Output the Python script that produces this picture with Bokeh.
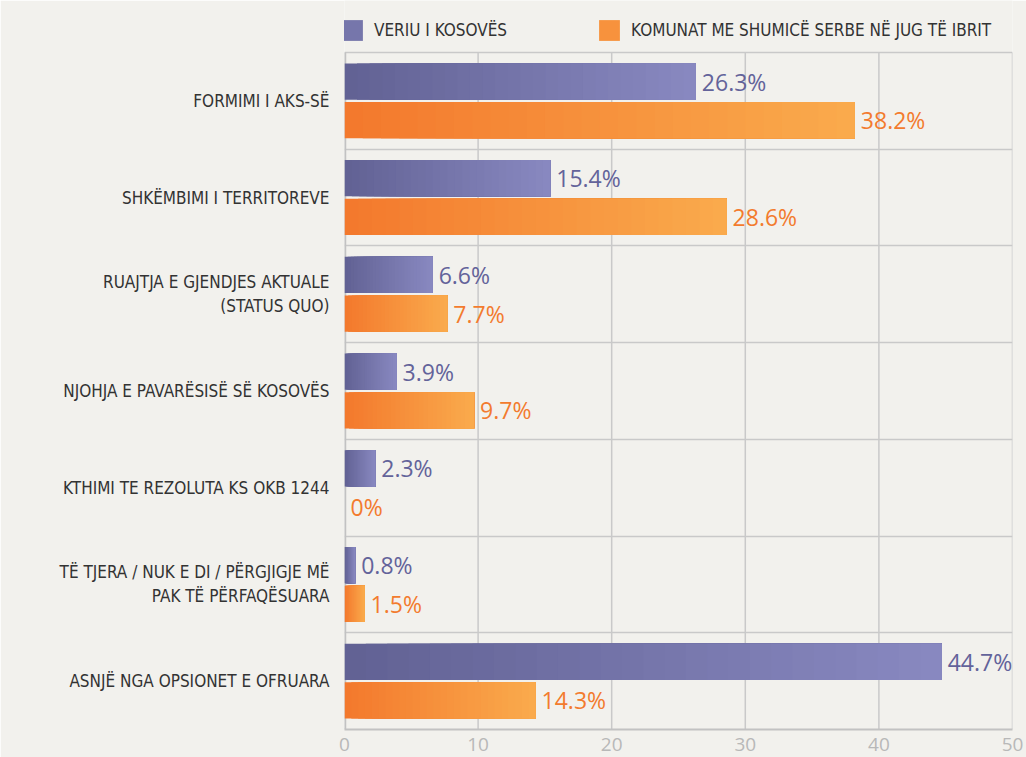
from bokeh.plotting import figure
from bokeh.models import Range1d, FixedTicker, Legend, LegendItem, ColumnDataSource
from bokeh.core.properties import value
from bokeh.embed import file_html
from bokeh.resources import INLINE

categories = [
    "FORMIMI I AKS-SË",
    "SHKËMBIMI I TERRITOREVE",
    "RUAJTJA E GJENDJES AKTUALE\n(STATUS QUO)",
    "NJOHJA E PAVARËSISË SË KOSOVËS",
    "KTHIMI TE REZOLUTA KS OKB 1244",
    "TË TJERA / NUK E DI / PËRGJIGJE MË\nPAK TË PËRFAQËSUARA",
    "ASNJË NGA OPSIONET E OFRUARA",
]
series_names = ["VERIU I KOSOVËS", "KOMUNAT ME SHUMICË SERBE NË JUG TË IBRIT"]
veriu = [26.3, 15.4, 6.6, 3.9, 2.3, 0.8, 44.7]
jug = [38.2, 28.6, 7.7, 9.7, 0.0, 1.5, 14.3]
x_ticks = [0, 10, 20, 30, 40, 50]

BG = "#f2f1ed"
GRID = "#c9c9c9"
LABEL_FONT = "DejaVu Sans Condensed"
NUM_FONT = "Open Sans"

W, H = 1026, 757
BOTTOM, LEFT, RIGHT = 28, 344, 14
HEADER_PX = 52                      # room above the chart for the legend
FRAME_H = H - BOTTOM
n = len(categories)
band_px = (FRAME_H - HEADER_PX) / n
y_top = n + HEADER_PX / band_px

centers = [n - 0.5 - i for i in range(n)]

p = figure(width=W, height=H, output_backend="svg", toolbar_location=None,
           x_range=Range1d(0, 50), y_range=Range1d(0, y_top),
           min_border_left=LEFT, min_border_right=RIGHT, min_border_top=0,
           min_border_bottom=BOTTOM)
p.background_fill_color = BG
p.border_fill_color = BG
p.outline_line_color = None

# grid lines limited to the chart area
p.xgrid.visible = False
p.segment(x0=x_ticks[1:], y0=[0] * (len(x_ticks) - 1), x1=x_ticks[1:], y1=[n] * (len(x_ticks) - 1),
          line_color=GRID, line_width=1.5)
p.ygrid.ticker = FixedTicker(ticks=list(range(1, n + 1)))
p.ygrid.grid_line_color = GRID
p.ygrid.grid_line_width = 1.5
# left axis line (chart area only)
p.segment(x0=[0], y0=[0], x1=[0], y1=[n], line_color="#c2c2c2", line_width=3.5)

def lerp(c1, c2, t):
    a = [int(c1[i:i + 2], 16) for i in (1, 3, 5)]
    b = [int(c2[i:i + 2], 16) for i in (1, 3, 5)]
    return "#%02x%02x%02x" % tuple(round(a[k] + (b[k] - a[k]) * t) for k in range(3))

N = 28
bar_h = 0.375
specs = [
    (veriu, 0.2, "#626294", "#8888c0", "#63639a"),
    (jug, -0.2, "#f3792d", "#faaa4c", "#f37b2e"),
]
legend_renderers = []
for vals, dodge, c_left, c_right, txt_col in specs:
    ys = [c + dodge for c in centers]
    mid_r = None
    for i in range(N):
        src = ColumnDataSource(dict(y=ys, left=[v * i / N for v in vals], right=vals))
        r = p.hbar(y="y", left="left", right="right", height=bar_h, source=src,
                   fill_color=lerp(c_left, c_right, i / (N - 1)), line_color=None)
        if i == N // 2:
            mid_r = r
    legend_renderers.append(mid_r)
    lsrc = ColumnDataSource(dict(x=vals, y=ys, t=[("%g" % v) + "%" for v in vals]))
    p.text(x="x", y="y", text="t", source=lsrc, x_offset=6, text_baseline="middle",
           text_align="left", text_color=txt_col, text_font=value(NUM_FONT),
           text_font_size="23px")

p.xaxis.ticker = FixedTicker(ticks=x_ticks)
p.xaxis.axis_line_color = "#c2c2c2"
p.xaxis.axis_line_width = 2
p.xaxis.major_tick_line_color = None
p.xaxis.minor_tick_line_color = None
p.xaxis.major_label_text_color = "#b8b8b8"
p.xaxis.major_label_text_font = NUM_FONT
p.xaxis.major_label_text_font_size = "19px"
p.xaxis.major_label_standoff = 2

p.yaxis.ticker = FixedTicker(ticks=centers)
p.yaxis.major_label_overrides = {c: lab for c, lab in zip(centers, categories)}
p.yaxis.axis_line_color = None
p.yaxis.major_tick_line_color = None
p.yaxis.minor_tick_line_color = None
p.yaxis.major_label_text_color = "#333333"
p.yaxis.major_label_text_font = LABEL_FONT
p.yaxis.major_label_text_font_size = "17px"
p.yaxis.major_label_standoff = 9

legend = Legend(items=[LegendItem(label=series_names[k], renderers=[legend_renderers[k]])
                       for k in range(2)],
                orientation="horizontal", location=(-5, FRAME_H - 43),
                glyph_width=26, glyph_height=26, label_height=26, label_standoff=9,
                spacing=89, padding=0, margin=0,
                background_fill_alpha=0, border_line_color=None,
                label_text_font=LABEL_FONT, label_text_font_size="17px",
                label_text_color="#333333")
p.add_layout(legend)

open("out.html", "w").write(file_html(p, INLINE))
